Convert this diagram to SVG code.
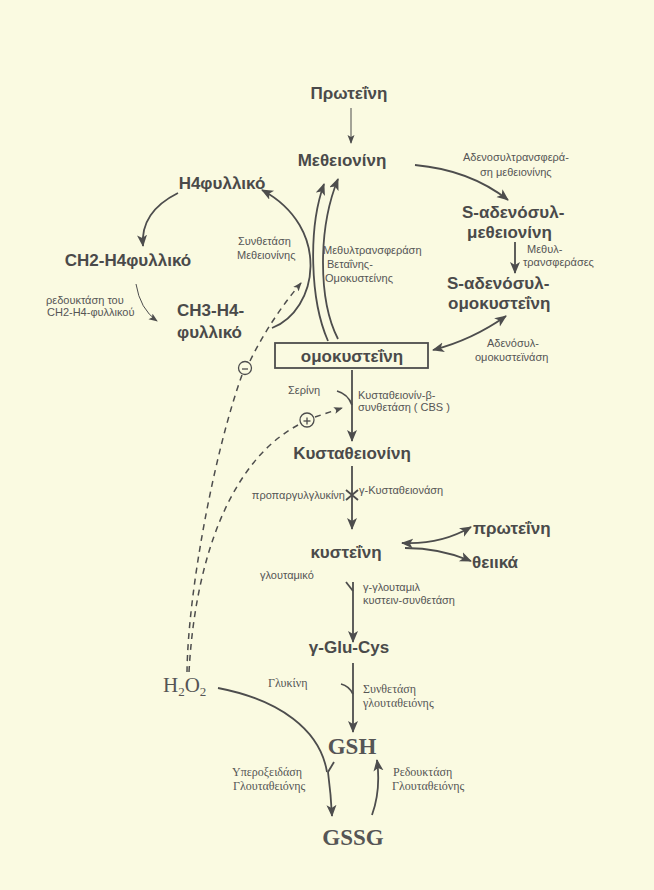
<svg xmlns="http://www.w3.org/2000/svg" width="654" height="890" viewBox="0 0 654 890">
<style>
.b{font-family:"Liberation Sans",Arial,sans-serif;font-weight:bold;font-size:17px;fill:#4a4a4a}
.s{font-family:"Liberation Sans",Arial,sans-serif;font-size:11px;fill:#555}
.r{font-family:"Liberation Serif","Times New Roman",serif;font-size:12px;fill:#555}
.R{font-family:"Liberation Serif","Times New Roman",serif;font-size:23px;font-weight:bold;fill:#555}
.ln{fill:none;stroke:#4d4d4d;stroke-width:1.8}
.th{fill:none;stroke:#4d4d4d;stroke-width:1}
.da{fill:none;stroke:#4d4d4d;stroke-width:1.5;stroke-dasharray:6 5}
.c{fill:none;stroke:#4d4d4d;stroke-width:1.3}
</style>
<defs>
<marker id="ah" markerUnits="userSpaceOnUse" markerWidth="14" markerHeight="12" refX="11" refY="5" orient="auto-start-reverse">
<path d="M0,0 L12,5 L0,10 L3,5 z" fill="#4d4d4d"/>
</marker>
<marker id="as" markerUnits="userSpaceOnUse" markerWidth="10" markerHeight="8" refX="8" refY="3.5" orient="auto">
<path d="M0,0 L9,3.5 L0,7 L2,3.5 z" fill="#4d4d4d"/>
</marker>
</defs>
<rect width="654" height="890" fill="#fafae1"/>

<g id="connectors">
<line class="th" x1="351" y1="108" x2="351" y2="143" marker-end="url(#as)"/>
<path class="ln" d="M415,165 Q470,170 508,200" marker-end="url(#ah)"/>
<line class="ln" x1="515" y1="242" x2="515" y2="273" marker-end="url(#ah)"/>
<path class="ln" d="M433,350 Q472,340 506,316" marker-start="url(#ah)" marker-end="url(#ah)"/>
<path class="ln" d="M328,341 C310,300 308,228 324,184" marker-end="url(#ah)"/>
<path class="ln" d="M338,339 C318,300 318,228 338,179" marker-end="url(#ah)"/>
<path class="ln" d="M272,328 C318,310 332,228 262,190" marker-end="url(#ah)"/>
<path class="ln" d="M178,193 Q140,212 143,246" marker-end="url(#ah)"/>
<path class="th" d="M136,284 Q140,309 157,321" marker-end="url(#as)"/>
<line class="ln" x1="352" y1="370" x2="352" y2="441" marker-end="url(#ah)"/>
<path class="ln" d="M337,391 Q348,394 352,405"/>
<line class="ln" x1="352" y1="466" x2="352" y2="529" marker-end="url(#ah)"/>
<path class="ln" d="M346,490 L358,500 M346,500 L358,490"/>
<path class="ln" d="M402,543 Q440,545 471,527" marker-start="url(#ah)" marker-end="url(#ah)"/>
<path class="ln" d="M405,548 Q440,548 471,561" marker-end="url(#ah)"/>
<line class="ln" x1="353" y1="582" x2="353" y2="642" marker-end="url(#ah)"/>
<path class="ln" d="M346,582 L353,591"/>
<line class="ln" x1="353" y1="663" x2="353" y2="732" marker-end="url(#ah)"/>
<path class="ln" d="M341,684 Q349,686 353,694"/>
<path class="ln" d="M218,688 C280,700 320,730 327,772"/>
<path class="ln" d="M334,762 L328,772"/>
<path class="ln" d="M328,772 Q331,795 332,816" marker-end="url(#ah)"/>
<path class="ln" d="M372,815 Q381,790 377,760" marker-end="url(#ah)"/>
<path class="da" d="M187,672 C188,590 215,450 242,375"/>
<path class="da" d="M250,361 Q270,320 301,283" marker-end="url(#as)"/>
<path class="da" d="M189,672 C195,560 230,460 300,424"/>
<path class="da" d="M315,417 L342,408" marker-end="url(#as)"/>
</g>

<g id="inhib-minus"><circle class="c" cx="245" cy="368" r="6.5"/><line class="c" x1="242" y1="369" x2="248" y2="369"/></g>
<g id="activ-plus"><circle class="c" cx="307" cy="420" r="7"/><line class="c" x1="303.5" y1="421" x2="310.5" y2="421"/><line class="c" x1="307" y1="417.5" x2="307" y2="424.5"/></g>

<g id="protein1"><text class="b" x="349" y="99" text-anchor="middle">Πρωτεΐνη</text></g>
<g id="methionine"><text class="b" x="342" y="166" text-anchor="middle">Μεθειονίνη</text></g>
<g id="h4folate"><text class="b" x="222" y="189" text-anchor="middle">Η4φυλλικό</text></g>
<g id="ch2h4"><text class="b" x="128" y="266" text-anchor="middle">CH2-H4φυλλικό</text></g>
<g id="ch3h4"><text class="b" x="177" y="316">CH3-H4-</text><text class="b" x="177" y="338">φυλλικό</text></g>
<g id="sam"><text class="b" x="462" y="218">S-αδενόσυλ-</text><text class="b" x="467" y="238">μεθειονίνη</text></g>
<g id="sah"><text class="b" x="447" y="289">S-αδενόσυλ-</text><text class="b" x="448" y="309">ομοκυστεΐνη</text></g>
<g id="homocysteine"><rect x="275" y="343" width="153" height="25" fill="none" stroke="#4d4d4d" stroke-width="1.8"/><text class="b" x="352" y="362" text-anchor="middle">ομοκυστεΐνη</text></g>
<g id="cystathionine"><text class="b" x="352" y="459" text-anchor="middle">Κυσταθειονίνη</text></g>
<g id="cysteine"><text class="b" x="346" y="558" text-anchor="middle">κυστεΐνη</text></g>
<g id="protein2"><text class="b" x="473" y="534">πρωτεΐνη</text></g>
<g id="sulfates"><text class="b" x="472" y="568">θειικά</text></g>
<g id="gluCys"><text class="b" x="349" y="653" text-anchor="middle">γ-Glu-Cys</text></g>
<g id="gsh"><text class="R" x="352" y="754" text-anchor="middle">GSH</text></g>
<g id="gssg"><text class="R" x="353" y="845" text-anchor="middle">GSSG</text></g>
<g id="h2o2"><text font-family="'Liberation Serif','Times New Roman',serif" font-size="21" fill="#555" x="163" y="692">H<tspan font-size="13" dy="4">2</tspan><tspan dy="-4">O</tspan><tspan font-size="13" dy="4">2</tspan></text></g>

<g id="labels">
<text class="s" x="463" y="161">Αδενοσυλτρανσφερά-</text>
<text class="s" x="480" y="176">ση μεθειονίνης</text>
<text class="s" x="527" y="253">Μεθυλ-</text>
<text class="s" x="523" y="266">τρανσφεράσες</text>
<text class="s" x="487" y="347">Αδενόσυλ-</text>
<text class="s" x="475" y="361">ομοκυστεϊνάση</text>
<text class="s" x="238" y="245">Συνθετάση</text>
<text class="s" x="237" y="259">Μεθειονίνης</text>
<text class="s" x="323" y="254">Μεθυλτρανσφεράση</text>
<text class="s" x="327" y="268">Βεταΐνης-</text>
<text class="s" x="325" y="282">Ομοκυστείνης</text>
<text class="s" x="46" y="304">ρεδουκτάση του</text>
<text class="s" x="47" y="316">CH2-H4-φυλλικού</text>
<text class="s" x="288" y="394">Σερίνη</text>
<text class="s" x="358" y="399">Κυσταθειονίν-β-</text>
<text class="s" x="358" y="411">συνθετάση ( CBS )</text>
<text class="s" x="345" y="499" text-anchor="end">προπαργυλγλυκίνη</text>
<text class="s" x="359" y="494">γ-Κυσταθειονάση</text>
<text class="s" x="260" y="579">γλουταμικό</text>
<text class="s" x="363" y="591">γ-γλουταμιλ</text>
<text class="s" x="363" y="604">κυστειν-συνθετάση</text>
<text class="r" x="268" y="687">Γλυκίνη</text>
<text class="r" x="363" y="693">Συνθετάση</text>
<text class="r" x="363" y="707">γλουταθειόνης</text>
<text class="r" x="232" y="776">Υπεροξειδάση</text>
<text class="r" x="233" y="790">Γλουταθειόνης</text>
<text class="r" x="393" y="776">Ρεδουκτάση</text>
<text class="r" x="392" y="790">Γλουταθειόνης</text>
</g>
</svg>
